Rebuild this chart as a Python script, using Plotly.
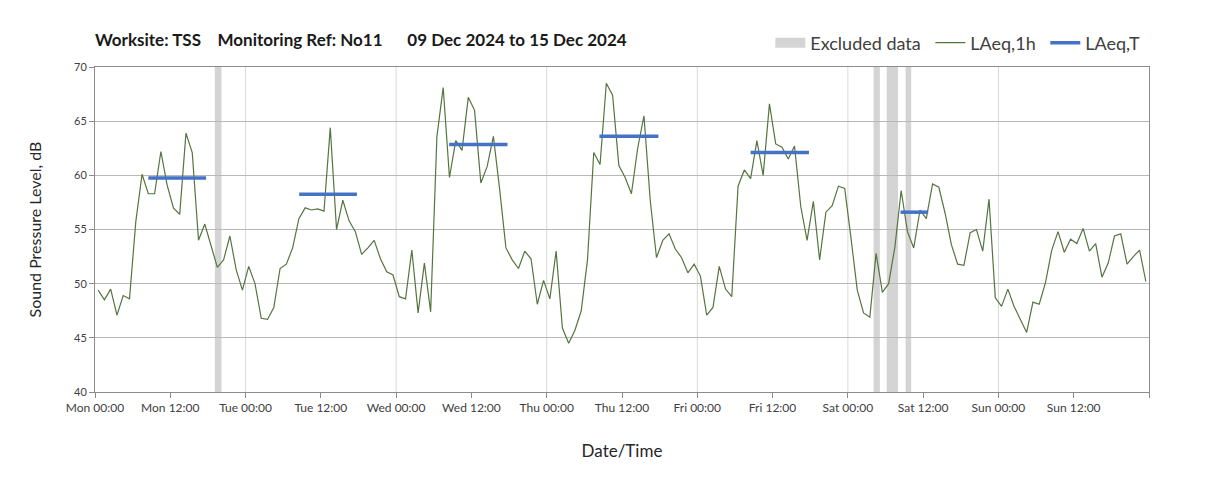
import plotly.graph_objects as go

# ---------------- data ----------------
tick_hours = [0, 12, 24, 36, 48, 60, 72, 84, 96, 108, 120, 132, 144, 156, 168]
tick_labels = ["Mon 00:00", "Mon 12:00", "Tue 00:00", "Tue 12:00", "Wed 00:00", "Wed 12:00",
               "Thu 00:00", "Thu 12:00", "Fri 00:00", "Fri 12:00", "Sat 00:00", "Sat 12:00",
               "Sun 00:00", "Sun 12:00", ""]

# hourly LAeq,1h (hours from Mon 00:00, plotted at mid-hour)
laeq_1h = [
    49.4, 48.5, 49.5, 47.1, 48.9, 48.6, 55.7, 60.1, 58.3, 58.3, 62.2, 59.1,
    57.0, 56.4, 63.9, 62.1, 54.0, 55.5, 53.5, 51.5, 52.2, 54.4, 51.3, 49.4,
    51.6, 50.0, 46.8, 46.7, 47.8, 51.4, 51.8, 53.3, 56.0, 57.0, 56.8, 56.9,
    56.7, 64.4, 55.0, 57.7, 55.8, 54.8, 52.7, 53.3, 54.0, 52.3, 51.1, 50.8,
    48.8, 48.6, 53.1, 47.3, 51.9, 47.4, 63.6, 68.1, 59.8, 63.2, 62.3, 67.2,
    66.0, 59.3, 60.8, 63.6, 58.7, 53.3, 52.2, 51.4, 53.0, 52.3, 48.1, 50.3,
    48.6, 53.0, 45.9, 44.5, 45.7, 47.5, 52.2, 62.1, 61.0, 68.5, 67.4, 60.9,
    59.8, 58.3, 62.5, 65.5, 57.7, 52.4, 54.0, 54.6, 53.2, 52.4, 51.0, 51.8,
    50.7, 47.1, 47.8, 51.6, 49.5, 48.8, 59.0, 60.5, 59.7, 63.2, 60.0, 66.6,
    62.9, 62.6, 61.5, 62.7, 57.1, 54.0, 57.6, 52.2, 56.6, 57.2, 59.0, 58.8,
    54.2, 49.4, 47.3, 46.9, 52.8, 49.2, 50.0, 53.4, 58.6, 54.8, 53.3, 56.8,
    56.0, 59.2, 58.9, 56.5, 53.6, 51.8, 51.7, 54.7, 55.0, 53.0, 57.8, 48.7,
    47.9, 49.5, 47.9, 46.7, 45.5, 48.3, 48.1, 50.1, 53.1, 54.8, 52.9, 54.1,
    53.7, 55.1, 53.0, 53.7, 50.6, 51.9, 54.4, 54.6, 51.8, 52.5, 53.1, 50.2,
]
hours = [h + 0.5 for h in range(len(laeq_1h))]

# LAeq,T daytime periods (start hour, end hour, level)
laeq_t_start = [8.5, 32.55, 56.45, 80.4, 104.5, 128.4]
laeq_t_end = [17.7, 41.75, 65.75, 89.8, 113.8, 132.8]
laeq_t_value = [59.75, 58.25, 62.85, 63.6, 62.1, 56.6]

# excluded data periods (hours from Mon 00:00)
excluded_start = [19.1, 124.1, 126.2, 129.2]
excluded_end = [20.15, 125.1, 128.0, 130.1]

y_ticks = [40, 45, 50, 55, 60, 65, 70]

# ---------------- styling ----------------
GREEN = "#55753f"
BLUE = "#4472C4"
GREY_BAND = "#d4d4d4"
FONT = "Lato"

W, H = 1200, 477   # page body adds an 8px offset
ML, MR, MT, MB = 87, 59, 59, 93
PLOT_H = H - MT - MB

fig = go.Figure()

fig.add_trace(go.Scatter(
    x=[None], y=[None], mode="lines", name="Excluded data\u00a0",
    line=dict(color=GREY_BAND, width=13), hoverinfo="skip"))

fig.add_trace(go.Scatter(
    x=hours, y=laeq_1h, mode="lines", name="LAeq,1h\u00a0",
    line=dict(color=GREEN, width=1.2)))

bx, by = [], []
for s, e, v in zip(laeq_t_start, laeq_t_end, laeq_t_value):
    bx += [s, e, None]
    by += [v, v, None]
fig.add_trace(go.Scatter(
    x=bx, y=by, mode="lines", name="LAeq,T",
    line=dict(color=BLUE, width=3.5)))

shapes = []
for s, e in zip(excluded_start, excluded_end):
    shapes.append(dict(type="rect", xref="x", yref="paper", x0=s, x1=e, y0=0, y1=1,
                       fillcolor=GREY_BAND, line=dict(width=0), layer="between"))
for h, lab in zip(tick_hours, tick_labels):
    if lab.endswith("00:00") and h > 0:
        shapes.append(dict(type="line", xref="x", yref="paper", x0=h, x1=h, y0=0, y1=1,
                           line=dict(color="#d9d9d9", width=1), layer="below"))

fig.update_layout(
    width=W, height=H,
    margin=dict(l=ML, r=MR, t=MT, b=MB),
    paper_bgcolor="white", plot_bgcolor="white",
    font=dict(family=FONT, color="#404040"),
    shapes=shapes,
    title=dict(
        text="<b>Worksite: TSS\u00a0\u00a0\u00a0\u00a0Monitoring Ref: No11\u00a0\u00a0\u00a0\u00a0\u00a0\u00a009 Dec 2024 to 15 Dec 2024</b>",
        x=0, xref="paper", xanchor="left",
        y=1 - 32 / H, yref="container", yanchor="middle",
        font=dict(family=FONT, size=17, color="#1a1a1a")),
    legend=dict(
        orientation="h", x=0.9965, xanchor="right", y=1 + 24 / PLOT_H, yanchor="middle",
        font=dict(family=FONT, size=18, color="#404040"),
        bgcolor="rgba(0,0,0,0)", traceorder="normal", itemwidth=30),
    showlegend=True,
)

fig.update_xaxes(
    range=[0, 168], tickvals=tick_hours, ticktext=tick_labels,
    showgrid=False, zeroline=False,
    showline=True, linecolor="#8c8c8c", linewidth=1, mirror=True,
    ticks="outside", ticklen=5, tickcolor="#8c8c8c",
    tickfont=dict(family=FONT, size=12, color="#404040"),
    title=dict(text="Date/Time", font=dict(family=FONT, size=17, color="#262626"), standoff=30),
)
fig.update_yaxes(
    range=[40, 70], tickvals=y_ticks,
    showgrid=True, gridcolor="#b8b8b8", gridwidth=1, zeroline=False,
    showline=True, linecolor="#8c8c8c", linewidth=1, mirror=True,
    ticks="outside", ticklen=5, tickcolor="#8c8c8c",
    tickfont=dict(family=FONT, size=11, color="#404040"),
    title=dict(text="Sound Pressure Level, dB", font=dict(family=FONT, size=16, color="#262626"), standoff=28),
)

fig.write_html("out.html")
